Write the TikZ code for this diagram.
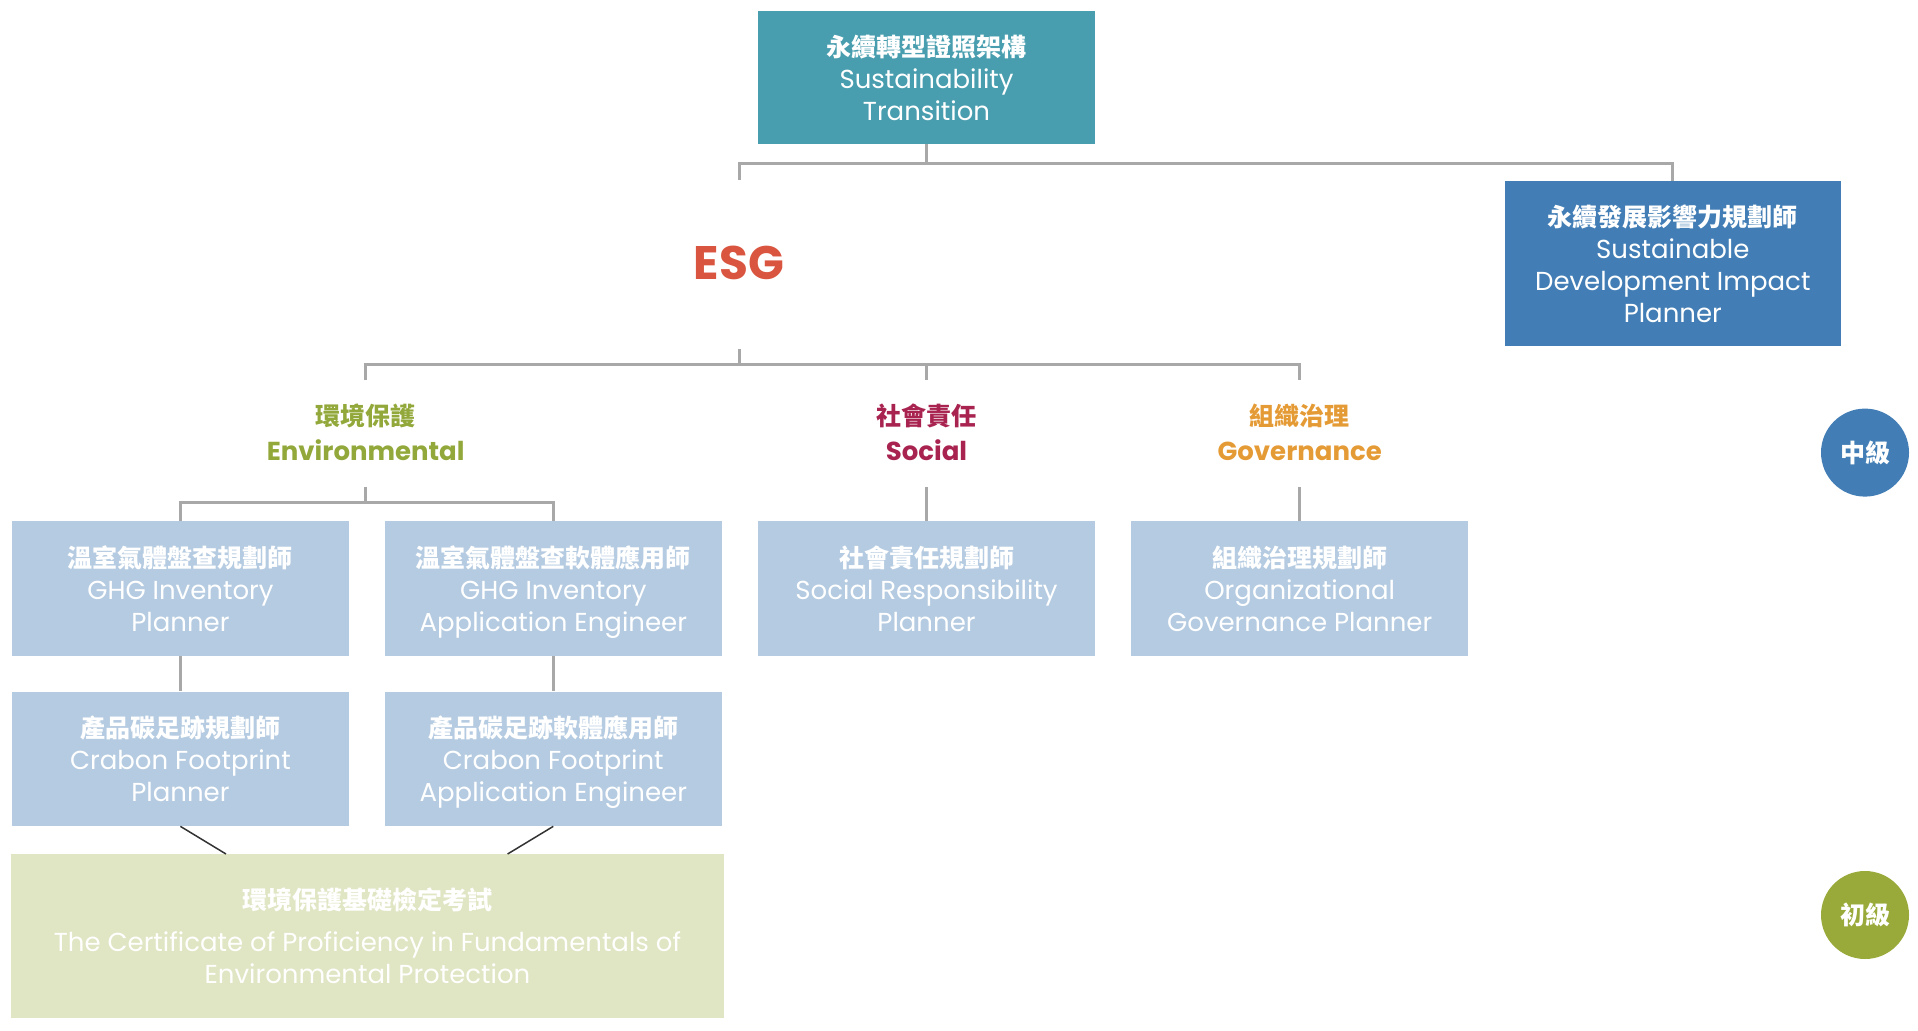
\documentclass[tikz,border=0pt]{standalone}
\usepackage{fontspec}
\setmainfont{Poppins}
\newfontfamily\cjk{Noto Sans CJK TC}
\definecolor{teal}{HTML}{489EAF}
\definecolor{darkblue}{HTML}{427EB5}
\definecolor{lightblue}{HTML}{B5CBE1}
\definecolor{paleolive}{HTML}{E0E5C3}
\definecolor{olive}{HTML}{9AAA3A}
\definecolor{envgreen}{HTML}{92A83A}
\definecolor{socred}{HTML}{A8234F}
\definecolor{govorange}{HTML}{E59B35}
\definecolor{esgred}{HTML}{D9553F}
\definecolor{connGray}{HTML}{A8A8A8}
\definecolor{diagGray}{HTML}{333333}
\newcommand{\zh}[1]{{\cjk\bfseries\fontsize{25}{32}\selectfont #1}}
\begin{document}
\begin{tikzpicture}[x=1pt,y=-1pt,
  conn/.style={draw=connGray,line width=3pt},
  diag/.style={draw=diagGray,line width=1.5pt},
  card/.style={rectangle,inner sep=0pt,align=center,text=white,text depth=0pt,
    minimum width=336.5pt,font=\fontsize{26}{32}\selectfont},
  topcard/.style={card,fill=teal,minimum height=133pt},
  sustcard/.style={card,fill=darkblue,minimum height=165pt},
  lightcard/.style={card,fill=lightblue,minimum height=134.5pt},
  basecard/.style={card,fill=paleolive,minimum width=713pt,minimum height=164pt},
  catlabel/.style={align=center,inner sep=0pt,font=\bfseries\fontsize{26}{35}\selectfont},
  level/.style={circle,inner sep=0pt,minimum size=88pt,text=white,font=\fontsize{26}{28}\selectfont}
]
\useasboundingbox (0,0) rectangle (1918,1030);

% top level
\node[topcard] (top) at (926.5,77.5) {\zh{永續轉型證照架構}\\Sustainability\\Transition};
\node[sustcard] (sust) at (1672.8,263.5) {\zh{永續發展影響力規劃師}\\Sustainable\\Development Impact\\Planner};
\node[inner sep=0pt,text=esgred,font=\bfseries\fontsize{47}{50}\selectfont] (esg) at (739,263) {ESG};

\coordinate (b1) at (926.5,163);
\coordinate (esgtop) at (739,180);
\draw[conn] (top.south) -- (b1);
\draw[conn] (esgtop) |- (b1) -| (sust.north);

% second bus
\coordinate (esgbot) at (739,348.6);
\coordinate (b2) at (739,364.5);
\coordinate (envtop) at (365.7,380.4);
\coordinate (soctop) at (926.5,380.4);
\coordinate (govtop) at (1299.7,380.4);
\coordinate (socbus) at (926.5,364.5);
\draw[conn] (esgbot) -- (b2);
\draw[conn] (envtop) |- (b2) -| (govtop);
\draw[conn] (socbus) -- (soctop);

% category labels
\node[catlabel,text=envgreen] (env) at (365.7,432.5) {\zh{環境保護}\\Environmental};
\node[catlabel,text=socred] (soc) at (926.5,432.5) {\zh{社會責任}\\Social};
\node[catlabel,text=govorange] (gov) at (1299.7,432.5) {\zh{組織治理}\\Governance};

% row 1
\node[lightcard] (g1) at (180.4,588.3) {\zh{溫室氣體盤查規劃師}\\GHG Inventory\\Planner};
\node[lightcard] (g2) at (553.3,588.3) {\zh{溫室氣體盤查軟體應用師}\\GHG Inventory\\Application Engineer};
\node[lightcard] (s1) at (926.5,588.3) {\zh{社會責任規劃師}\\Social Responsibility\\Planner};
\node[lightcard] (o1) at (1299.7,588.3) {\zh{組織治理規劃師}\\Organizational\\Governance Planner};

% row 2
\node[lightcard] (c1) at (180.4,758.9) {\zh{產品碳足跡規劃師}\\Crabon Footprint\\Planner};
\node[lightcard] (c2) at (553.3,758.9) {\zh{產品碳足跡軟體應用師}\\Crabon Footprint\\Application Engineer};

% base
\node[basecard] (base) at (367.5,936) {\zh{環境保護基礎檢定考試}\\[10pt]The Certificate of Proficiency in Fundamentals of\\Environmental Protection};

% env connectors
\coordinate (envbot) at (365.7,486.8);
\coordinate (envbus) at (365.7,502.7);
\draw[conn] (envbot) -- (envbus);
\draw[conn] (g1.north) |- (envbus) -| (g2.north);
\coordinate (socbot) at (926.5,486.8);
\coordinate (govbot) at (1299.7,486.8);
\draw[conn] (socbot) -- (s1.north);
\draw[conn] (govbot) -- (o1.north);
\draw[conn] (g1.south) -- (c1.north);
\draw[conn] (g2.south) -- (c2.north);

% diagonals
\coordinate (d1) at (226,854);
\coordinate (d2) at (507.6,854);
\draw[diag] (c1.south) -- (d1);
\draw[diag] (c2.south) -- (d2);

% levels
\node[level,fill=darkblue] (mid) at (1865,452.6) {\zh{中級}};
\node[level,fill=olive] (beg) at (1865,915) {\zh{初級}};
\end{tikzpicture}
\end{document}
